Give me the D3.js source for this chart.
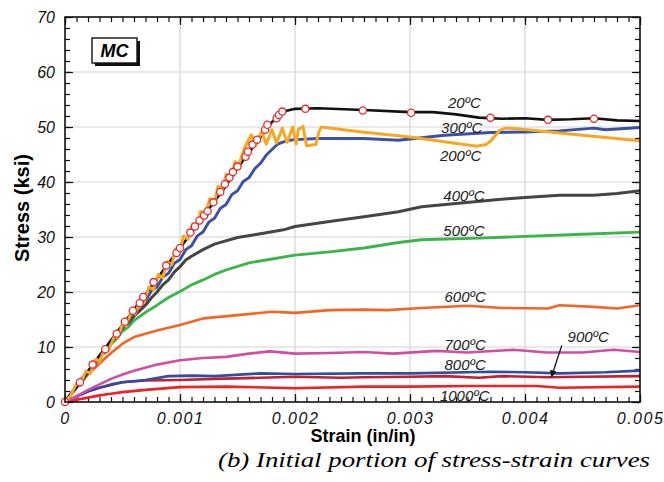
<!DOCTYPE html>
<html>
<head>
<meta charset="utf-8">
<script src="https://cdn.jsdelivr.net/npm/d3@7"></script>
<style>
  html, body { margin: 0; padding: 0; background: #fff; }
  svg { display: block; }
  .tick text { font-family: "Liberation Sans", Arial, sans-serif; font-style: italic; font-size: 16px; fill: #111; }
</style>
</head>
<body>
<script>
// Stress-strain curves of MC at elevated temperature, initial portion (strain in in/in, stress in ksi)
const xTicks = [0, 0.001, 0.002, 0.003, 0.004, 0.005];
const xTickLabels = ["0", "0.001", "0.002", "0.003", "0.004", "0.005"];
const yTicks = [0, 10, 20, 30, 40, 50, 60, 70];

const curve20 = [[0,0],[0.0001,2.8],[0.0002,5.6],[0.0003,8.4],[0.0004,11.2],[0.0005,14.0],[0.0006,16.8],[0.0007,19.6],[0.0008,22.4],[0.0009,25.2],[0.001,28.0],[0.0011,30.8],[0.0012,33.7],[0.0013,36.5],[0.0014,39.3],[0.0015,42.6],[0.0016,45.3],[0.0017,48.2],[0.0018,50.9],[0.0019,52.8],[0.002,53.3],[0.0022,53.4],[0.0026,53.1],[0.003,52.7],[0.0032,52.7],[0.0034,52.3],[0.0036,51.7],[0.0038,51.5],[0.004,51.6],[0.0042,51.3],[0.0044,51.4],[0.0046,51.6],[0.0048,51.2],[0.005,51.1]];
const markers20 = [[0,0],[0.00013,3.6],[0.00024,6.8],[0.00035,9.6],[0.00045,12.4],[0.00052,14.6],[0.00059,16.6],[0.00065,18.0],[0.00068,19.1],[0.00077,21.8],[0.00088,24.8],[0.00097,27.1],[0.001,28.0],[0.00109,30.8],[0.00113,31.9],[0.00117,33.0],[0.00121,33.9],[0.00124,34.7],[0.00129,36.3],[0.00135,38.2],[0.00139,39.6],[0.00143,40.8],[0.00146,41.8],[0.0015,42.8],[0.00157,44.6],[0.00159,45.5],[0.00163,46.8],[0.00167,47.7],[0.00174,49.5],[0.00176,50.4],[0.00184,51.6],[0.00186,52.2],[0.00189,52.8],[0.00209,53.3],[0.00259,53.0],[0.00301,52.6],[0.0037,51.7],[0.0042,51.3],[0.0046,51.5]];
const curve200 = [[0,0],[0.00005,1.2],[0.0001,3.4],[0.00013,3.0],[0.00018,5.6],[0.00022,5.2],[0.00027,7.8],[0.0003,7.4],[0.00035,9.9],[0.00038,9.5],[0.00043,12.0],[0.00046,11.6],[0.0005,14.2],[0.00053,13.8],[0.00058,16.5],[0.00061,16.0],[0.00066,18.8],[0.00069,18.2],[0.00073,20.9],[0.00077,20.4],[0.00081,23.2],[0.00085,22.6],[0.00089,25.5],[0.00093,25.0],[0.00096,27.8],[0.001,27.3],[0.00103,30.2],[0.00107,29.6],[0.00111,32.4],[0.00115,31.9],[0.00118,34.7],[0.00122,34.1],[0.00126,37.0],[0.0013,36.3],[0.00133,39.2],[0.00137,38.6],[0.0014,41.4],[0.00144,40.8],[0.00148,43.7],[0.00151,43.0],[0.00155,45.5],[0.00157,46.6],[0.00162,48.6],[0.00166,46.8],[0.00171,49.2],[0.00175,46.9],[0.0018,49.5],[0.00184,47.1],[0.00189,49.8],[0.00193,47.2],[0.00198,50.0],[0.00201,46.9],[0.00203,49.6],[0.00207,50.1],[0.0021,46.6],[0.00218,46.8],[0.00221,49.2],[0.00223,50.0],[0.00258,49.1],[0.003,48.2],[0.00358,46.5],[0.00366,46.8],[0.0037,47.4],[0.00374,48.4],[0.00378,49.4],[0.00383,49.8],[0.00393,49.7],[0.0045,48.5],[0.005,47.5]];
const curve300 = [[0,0],[0.00005,1.5],[0.0001,2.6],[0.00015,4.4],[0.0002,5.2],[0.00025,7.2],[0.0003,7.9],[0.00035,9.9],[0.0004,10.6],[0.00045,12.6],[0.0005,13.3],[0.00055,15.2],[0.0006,15.9],[0.00065,17.7],[0.0007,18.4],[0.00075,20.2],[0.0008,20.9],[0.00085,22.7],[0.0009,23.4],[0.00095,25.2],[0.001,25.9],[0.00105,27.7],[0.0011,28.4],[0.00115,30.2],[0.0012,30.9],[0.00125,32.7],[0.0013,33.4],[0.00135,35.2],[0.0014,35.9],[0.00145,37.7],[0.0015,38.4],[0.00155,40.1],[0.0016,40.8],[0.00165,42.4],[0.0017,43.4],[0.00175,44.9],[0.0018,45.9],[0.00185,46.9],[0.0019,47.3],[0.00195,47.6],[0.002,47.7],[0.0022,47.9],[0.0026,47.9],[0.0029,47.6],[0.0033,48.5],[0.0037,49.0],[0.004,49.1],[0.0043,49.3],[0.0046,49.8],[0.0047,49.5],[0.005,49.9]];
const curve400 = [[0,0],[0.0001,2.9],[0.00015,3.8],[0.0002,5.6],[0.00025,6.6],[0.0003,8.4],[0.00035,9.3],[0.0004,11.0],[0.00045,11.9],[0.0005,13.5],[0.00055,14.3],[0.0006,15.6],[0.00065,16.6],[0.0007,17.6],[0.00075,18.9],[0.0008,20.0],[0.00085,21.3],[0.0009,22.2],[0.00095,23.6],[0.001,24.6],[0.00105,25.8],[0.0011,26.5],[0.0012,27.7],[0.0013,28.7],[0.0015,29.9],[0.0017,30.6],[0.0019,31.3],[0.002,31.9],[0.0023,32.8],[0.0026,33.7],[0.0029,34.6],[0.0031,35.5],[0.0034,36.1],[0.0037,36.7],[0.004,37.2],[0.0043,37.6],[0.0046,37.6],[0.0048,37.9],[0.005,38.4]];
const curve500 = [[0,0],[0.0001,2.8],[0.00015,3.7],[0.0002,5.5],[0.00025,6.4],[0.0003,8.2],[0.00035,9.0],[0.0004,10.5],[0.00045,11.5],[0.0005,12.9],[0.00055,13.6],[0.0006,14.8],[0.0007,16.3],[0.0008,17.6],[0.0009,19.0],[0.001,20.1],[0.0011,21.3],[0.0012,22.2],[0.0013,23.2],[0.0014,24.0],[0.0016,25.3],[0.0018,26.0],[0.002,26.7],[0.0023,27.3],[0.0026,28.0],[0.0029,29.0],[0.0031,29.5],[0.0036,29.8],[0.004,30.1],[0.0045,30.5],[0.005,30.9]];
const curve600 = [[0,0],[0.0001,2.5],[0.0002,5.0],[0.0003,7.0],[0.0004,8.9],[0.0005,10.6],[0.0006,11.8],[0.0008,13.0],[0.001,14.0],[0.0012,15.2],[0.0015,15.8],[0.0018,16.4],[0.002,16.2],[0.0023,16.7],[0.0026,16.8],[0.0028,16.7],[0.0031,17.1],[0.0035,17.5],[0.0038,17.1],[0.0042,17.0],[0.0043,17.6],[0.0046,17.3],[0.0048,17.0],[0.005,17.6]];
const curve700 = [[0,0],[0.0001,1.0],[0.0002,2.2],[0.0003,3.2],[0.0004,4.2],[0.0005,5.0],[0.0006,5.7],[0.0008,6.8],[0.001,7.6],[0.0012,8.0],[0.0014,8.2],[0.0016,8.8],[0.00178,9.2],[0.002,8.8],[0.0023,8.9],[0.0026,9.1],[0.00285,8.8],[0.00323,9.3],[0.0035,9.0],[0.0039,9.5],[0.00419,9.0],[0.0045,9.0],[0.00477,9.5],[0.005,9.1]];
const curve800 = [[0,0],[0.0001,1.0],[0.0002,1.9],[0.0003,2.6],[0.0004,3.2],[0.0005,3.6],[0.0007,4.0],[0.0009,4.7],[0.0011,4.8],[0.0013,4.7],[0.0017,5.2],[0.002,5.1],[0.0026,5.2],[0.003,5.2],[0.0037,5.5],[0.004,5.4],[0.0043,5.2],[0.0047,5.4],[0.005,5.7]];
const curve900 = [[0,0],[0.0001,1.0],[0.0002,2.0],[0.0003,2.6],[0.0004,3.1],[0.0005,3.6],[0.0007,3.9],[0.001,4.0],[0.0013,4.2],[0.0017,4.4],[0.002,4.6],[0.0024,4.4],[0.0026,4.5],[0.003,4.6],[0.0033,4.7],[0.0036,4.4],[0.0038,4.7],[0.0042,4.5],[0.0045,4.6],[0.005,4.7]];
const curve1000 = [[0,0],[0.0001,0.4],[0.0002,0.8],[0.0003,1.2],[0.0004,1.5],[0.0005,1.8],[0.0007,2.2],[0.001,2.7],[0.0014,2.8],[0.002,2.5],[0.0026,2.8],[0.003,2.8],[0.0035,2.9],[0.0041,2.9],[0.0043,2.6],[0.005,2.8]];

// Curve labels anchored in data units (left edge, baseline)
const tempLabels = ["20ºC", "300ºC", "200ºC", "400ºC", "500ºC", "600ºC", "700ºC", "800ºC", "1000ºC", "900ºC"];
const labelStrain = [0.00333, 0.00327, 0.00326, 0.00329, 0.00329, 0.0033, 0.0033, 0.0033, 0.00326, 0.00437];
const labelStress = [53.4, 48.9, 43.8, 36.5, 30.2, 18.2, 9.45, 5.8, 0.2, 10.9];
const arrow900 = [[0.00432, 10.3], [0.00423, 4.6]];

const SANS = "'Liberation Sans', Arial, sans-serif";
const SERIF = "'Liberation Serif', 'Times New Roman', serif";
const W = 664, H = 482;
const svg = d3.select("body").append("svg").attr("width", W).attr("height", H);

const x = d3.scaleLinear().domain([0, 0.005]).range([65, 640]);
const y = d3.scaleLinear().domain([0, 70]).range([402, 17]);

// grid
const grid = svg.append("g").attr("stroke", "#d4d4d4").attr("stroke-width", 1.2);
grid.selectAll("line.v").data(xTicks.slice(1, -1)).join("line")
  .attr("x1", d => x(d)).attr("x2", d => x(d)).attr("y1", y(70)).attr("y2", y(0));
grid.selectAll("line.h").data(yTicks.slice(1, -1)).join("line")
  .attr("x1", x(0)).attr("x2", x(0.005)).attr("y1", d => y(d)).attr("y2", d => y(d));

// axes with inward ticks on all four sides
const minorX = d3.range(0, 51).map(i => i / 10000);
const minorY = d3.range(0, 36).map(i => i * 2);

function styleAxis(g) {
  g.select(".domain").remove();
  g.selectAll(".tick line").attr("stroke", "#111").attr("stroke-width", 1.2);
}
svg.append("g").attr("transform", `translate(0,${y(0)})`)
  .call(d3.axisBottom(x).tickValues(minorX).tickSizeInner(-5).tickSizeOuter(0).tickFormat(""))
  .call(styleAxis);
svg.append("g").attr("transform", `translate(0,${y(70)})`)
  .call(d3.axisTop(x).tickValues(minorX).tickSizeInner(-5).tickSizeOuter(0).tickFormat(""))
  .call(styleAxis);
svg.append("g").attr("transform", `translate(${x(0)},0)`)
  .call(d3.axisLeft(y).tickValues(minorY).tickSizeInner(-5).tickSizeOuter(0).tickFormat(""))
  .call(styleAxis);
svg.append("g").attr("transform", `translate(${x(0.005)},0)`)
  .call(d3.axisRight(y).tickValues(minorY).tickSizeInner(-5).tickSizeOuter(0).tickFormat(""))
  .call(styleAxis);

const xAxis = svg.append("g").attr("transform", `translate(0,${y(0)})`)
  .call(d3.axisBottom(x).tickValues(xTicks).tickSizeInner(-8).tickSizeOuter(0).tickPadding(11)
    .tickFormat((d, i) => xTickLabels[i]))
  .call(styleAxis);
xAxis.selectAll(".tick text").attr("letter-spacing", "1.5px");
svg.append("g").attr("transform", `translate(0,${y(70)})`)
  .call(d3.axisTop(x).tickValues(xTicks).tickSizeInner(-8).tickSizeOuter(0).tickFormat(""))
  .call(styleAxis);
svg.append("g").attr("transform", `translate(${x(0)},0)`)
  .call(d3.axisLeft(y).tickValues(yTicks).tickSizeInner(-8).tickSizeOuter(0).tickPadding(10))
  .call(styleAxis);
svg.append("g").attr("transform", `translate(${x(0.005)},0)`)
  .call(d3.axisRight(y).tickValues(yTicks).tickSizeInner(-8).tickSizeOuter(0).tickFormat(""))
  .call(styleAxis);

// curves
svg.append("clipPath").attr("id", "plot").append("rect")
  .attr("x", x(0)).attr("y", y(70)).attr("width", x(0.005) - x(0)).attr("height", y(0) - y(70));
const line = d3.line().x(d => x(d[0])).y(d => y(d[1]));
const plot = svg.append("g").attr("clip-path", "url(#plot)");

const series = [
  { data: curve1000, color: "#ec2227", w: 2.6 },
  { data: curve900, color: "#c4202e", w: 2.6 },
  { data: curve800, color: "#2f4da3", w: 2.6 },
  { data: curve700, color: "#d04ea5", w: 2.6 },
  { data: curve600, color: "#f26524", w: 2.6 },
  { data: curve500, color: "#3bb44a", w: 2.8 },
  { data: curve400, color: "#454545", w: 3.0 },
  { data: curve300, color: "#3a4fa6", w: 2.9 },
  { data: curve20, color: "#111111", w: 2.6 },
  { data: curve200, color: "#f7a823", w: 3.0 }
];
plot.selectAll("path.curve").data(series).join("path")
  .attr("class", "curve")
  .attr("d", d => line(d.data))
  .attr("fill", "none")
  .attr("stroke", d => d.color)
  .attr("stroke-width", d => d.w)
  .attr("stroke-linejoin", "round")
  .attr("stroke-linecap", "round");

svg.append("g").selectAll("circle").data(markers20).join("circle")
  .attr("cx", d => x(d[0])).attr("cy", d => y(d[1])).attr("r", 3.6)
  .attr("fill", "#fff").attr("stroke", "#e8282b").attr("stroke-width", 1.3);

// border
svg.append("rect").attr("x", x(0)).attr("y", y(70))
  .attr("width", x(0.005) - x(0)).attr("height", y(0) - y(70))
  .attr("fill", "none").attr("stroke", "#111").attr("stroke-width", 1.6);

// temperature labels
svg.append("g").selectAll("text").data(tempLabels).join("text")
  .attr("x", (d, i) => x(labelStrain[i])).attr("y", (d, i) => y(labelStress[i]))
  .style("font-family", SANS)
  .attr("font-style", "italic").attr("font-size", 15).attr("fill", "#222")
  .text(d => d);

// arrow pointing at the 900ºC curve
const defs = svg.append("defs");
defs.append("marker").attr("id", "arrowhead").attr("viewBox", "0 0 10 10")
  .attr("refX", 9).attr("refY", 5).attr("markerWidth", 7).attr("markerHeight", 7)
  .attr("orient", "auto").attr("markerUnits", "userSpaceOnUse")
  .append("path").attr("d", "M0,0 L10,5 L0,10 z").attr("fill", "#111");
svg.append("line")
  .attr("x1", x(arrow900[0][0])).attr("y1", y(arrow900[0][1]))
  .attr("x2", x(arrow900[1][0])).attr("y2", y(arrow900[1][1]))
  .attr("stroke", "#111").attr("stroke-width", 1.3).attr("marker-end", "url(#arrowhead)");

// specimen tag
svg.append("rect").attr("x", 95).attr("y", 41).attr("width", 45).attr("height", 25).attr("fill", "#111");
svg.append("rect").attr("x", 92).attr("y", 38).attr("width", 45).attr("height", 25)
  .attr("fill", "#fff").attr("stroke", "#111").attr("stroke-width", 1.4);
svg.append("text").attr("x", 114.5).attr("y", 57)
  .attr("text-anchor", "middle")
  .style("font-family", SANS)
  .attr("font-style", "italic").attr("font-weight", "bold").attr("font-size", 18)
  .text("MC");

// axis titles
svg.append("text").attr("x", 363).attr("y", 442).attr("text-anchor", "middle")
  .style("font-family", SANS)
  .attr("font-weight", "bold").attr("font-size", 18).text("Strain (in/in)");
svg.append("text").attr("transform", "translate(29,208) rotate(-90)").attr("text-anchor", "middle")
  .style("font-family", SANS)
  .attr("font-weight", "bold").attr("font-size", 20).text("Stress (ksi)");

// caption
svg.append("text").attr("x", 218).attr("y", 467)
  .style("font-family", SERIF)
  .attr("font-style", "italic").attr("font-size", 22)
  .attr("textLength", 432).attr("lengthAdjust", "spacingAndGlyphs")
  .text("(b) Initial portion of stress-strain curves");
</script>
</body>
</html>
